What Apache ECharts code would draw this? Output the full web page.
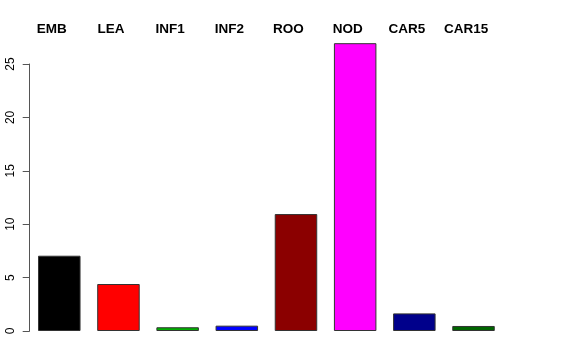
<!DOCTYPE html>
<html><head><meta charset="utf-8">
<script src="https://cdn.jsdelivr.net/npm/echarts@6/dist/echarts.min.js"></script>
<style>html,body{margin:0;padding:0;background:#fff}#c{width:576px;height:360px}</style>
</head><body><div id="c"></div>
<script>
const categories = ["EMB","LEA","INF1","INF2","ROO","NOD","CAR5","CAR15"];
const values = [7.05, 4.4, 0.35, 0.5, 10.95, 26.95, 1.65, 0.47];
const colors = ["#000000","#FF0000","#00B000","#0000FF","#8B0000","#FF00FF","#00008B","#006400"];
const yTicks = [0,5,10,15,20,25];

const chart = echarts.init(document.getElementById('c'), null, {renderer:'canvas'});
chart.setOption({
  animation:false,
  grid:{left:29.7, width:473.4, top:64, bottom:29},
  xAxis:{
    type:'category', data:categories, position:'top',
    axisLine:{show:false}, axisTick:{show:false},
    axisLabel:{fontFamily:'Liberation Sans, Arial, sans-serif', fontWeight:'bold', fontSize:13.5, color:'#000', margin:28, padding:[0,15,0,0]}
  },
  yAxis:{
    type:'value', min:yTicks[0], max:yTicks[yTicks.length-1], interval:5,
    splitLine:{show:false},
    axisLine:{show:true, lineStyle:{color:'#555', width:1}},
    axisTick:{show:true, length:7, lineStyle:{color:'#555'}},
    axisLabel:{rotate:90, fontFamily:'Liberation Sans, Arial, sans-serif', fontSize:12, color:'#000', margin:13, align:'center'}
  },
  series:[{
    type:'bar', clip:false, barWidth:42.5,
    data: values.map((v,i)=>({value:v, itemStyle:{color:colors[i]}})),
    itemStyle:{borderColor:'#333', borderWidth:1}
  }]
});
</script></body></html>
